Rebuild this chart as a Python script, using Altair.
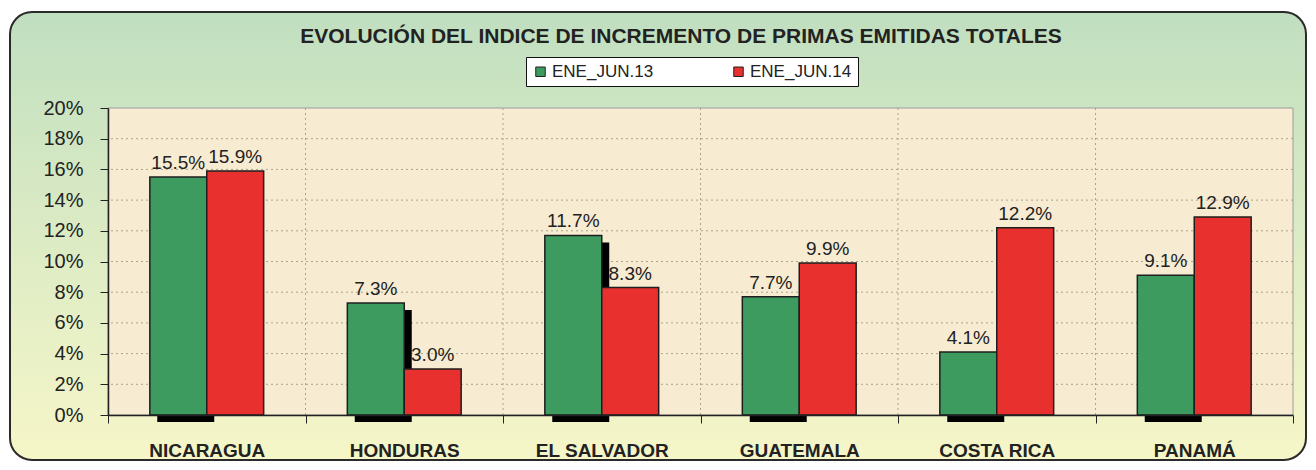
import altair as alt
import pandas as pd

categories = ["NICARAGUA", "HONDURAS", "EL SALVADOR", "GUATEMALA", "COSTA RICA", "PANAMÁ"]
series = ["ENE_JUN.13", "ENE_JUN.14"]
values_13 = [15.5, 7.3, 11.7, 7.7, 4.1, 9.1]
values_14 = [15.9, 3.0, 8.3, 9.9, 12.2, 12.9]
y_ticks = [0, 2, 4, 6, 8, 10, 12, 14, 16, 18, 20]
title_text = "EVOLUCIÓN DEL INDICE DE INCREMENTO DE PRIMAS EMITIDAS TOTALES"

rows = []
for c, a, b in zip(categories, values_13, values_14):
    rows.append({"cat": c, "serie": series[0], "v": a, "label": f"{a:.1f}%"})
    rows.append({"cat": c, "serie": series[1], "v": b, "label": f"{b:.1f}%"})
df = pd.DataFrame(rows)
df13 = df[df.serie == series[0]]

W, H = 1185, 307
FONT = "Liberation Sans"
GREEN = "#3d9b60"
RED = "#e8302f"
INK = "#222222"

xscale = alt.Scale(domain=categories, paddingInner=0, paddingOuter=0)
yscale = alt.Scale(domain=[0, 20], nice=False, zero=True)
xoff_scale = alt.Scale(domain=series, paddingInner=0, paddingOuter=0.735)

xaxis = alt.Axis(title=None, labelFontSize=19, labelFontWeight="bold", labelFont=FONT,
                 labelColor=INK, labelAngle=0, labelPadding=18,
                 tickBand="extent", tickSize=8, tickColor=INK,
                 domainColor=INK, domainWidth=1.5, grid=False, zindex=1)
yaxis = alt.Axis(title=None, values=y_ticks, labelExpr="datum.value + '%'",
                 labelFontSize=20, labelFont=FONT, labelColor=INK,
                 labelPadding=17, tickSize=8, tickColor=INK,
                 domainColor=INK, domainWidth=1.5, grid=False, zindex=1)

one = alt.Data(values=[{"a": 1}])

bg = alt.Chart(one).mark_rect(
    fill=alt.LinearGradient(
        gradient="linear",
        stops=[alt.GradientStop(color="#c0dfc0", offset=0),
               alt.GradientStop(color="#dcebc4", offset=0.5),
               alt.GradientStop(color="#f6f6c8", offset=1)],
        x1=0, x2=0, y1=0, y2=1),
    stroke="#2a2a2a", strokeWidth=2, cornerRadius=22,
).encode(x=alt.value(-98), x2=alt.value(1198), y=alt.value(-96), y2=alt.value(352))

plot_bg = alt.Chart(one).mark_rect(
    fill="#f7ecd2", stroke="#9c9c9c", strokeWidth=1
).encode(x=alt.value(0), x2=alt.value(W), y=alt.value(0), y2=alt.value(H))

hgrid = alt.Chart(pd.DataFrame({"t": y_ticks[1:-1]})).mark_rule(
    color="#a9a58c", strokeDash=[2, 3], strokeWidth=1
).encode(y=alt.Y("t:Q", scale=yscale, axis=yaxis))

vgrid = alt.Chart(pd.DataFrame({"cat": categories[:-1]})).mark_rule(
    color="#a9a58c", strokeDash=[2, 3], strokeWidth=1
).encode(x=alt.X("cat:N", scale=xscale, sort=categories, bandPosition=1, axis=xaxis))

shadow = alt.Chart(df13).mark_bar(
    color="#000000", width=alt.RelativeBandSize(0.2886),
    xOffset=-21, yOffset=7, y2Offset=7,
).encode(
    x=alt.X("cat:N", scale=xscale, sort=categories, axis=xaxis),
    y=alt.Y("v:Q", scale=yscale, axis=yaxis),
    y2=alt.datum(0),
)

bars = alt.Chart(df).mark_bar(stroke="#1e1e1e", strokeWidth=1.5).encode(
    x=alt.X("cat:N", scale=xscale, sort=categories, axis=xaxis),
    xOffset=alt.XOffset("serie:N", scale=xoff_scale, sort=series),
    y=alt.Y("v:Q", scale=yscale, axis=yaxis),
    color=alt.Color("serie:N", scale=alt.Scale(domain=series, range=[GREEN, RED]),
                    legend=alt.Legend(title=None, orient="none", legendX=418, legendY=-51,
                                      direction="horizontal", fillColor="white",
                                      strokeColor="#111111", padding=6,
                                      symbolType="square", symbolSize=90,
                                      symbolStrokeColor=INK, symbolStrokeWidth=1,
                                      labelFontSize=17, labelFont=FONT, labelColor=INK,
                                      labelOffset=3, columnPadding=76, zindex=1)),
)

labels = alt.Chart(df).mark_text(
    fontSize=19, font=FONT, color=INK, baseline="bottom", dy=-4
).encode(
    x=alt.X("cat:N", scale=xscale, sort=categories, axis=xaxis),
    xOffset=alt.XOffset("serie:N", scale=xoff_scale, sort=series),
    y=alt.Y("v:Q", scale=yscale, axis=yaxis),
    text="label:N",
)

title = alt.Chart(one).mark_text(
    text=title_text, fontSize=21, font=FONT, fontWeight="bold", color=INK,
    align="center", baseline="middle",
).encode(x=alt.value(573), y=alt.value(-71))

chart = alt.layer(bg, plot_bg, hgrid, vgrid, shadow, bars, labels, title).properties(
    width=W, height=H,
    autosize=alt.AutoSizeParams(type="none"),
    padding={"left": 100, "top": 100, "right": 15, "bottom": 47},
    background="white",
).configure_view(stroke=None)

chart.save("out.html", embed_options={"renderer": "svg", "actions": False})
